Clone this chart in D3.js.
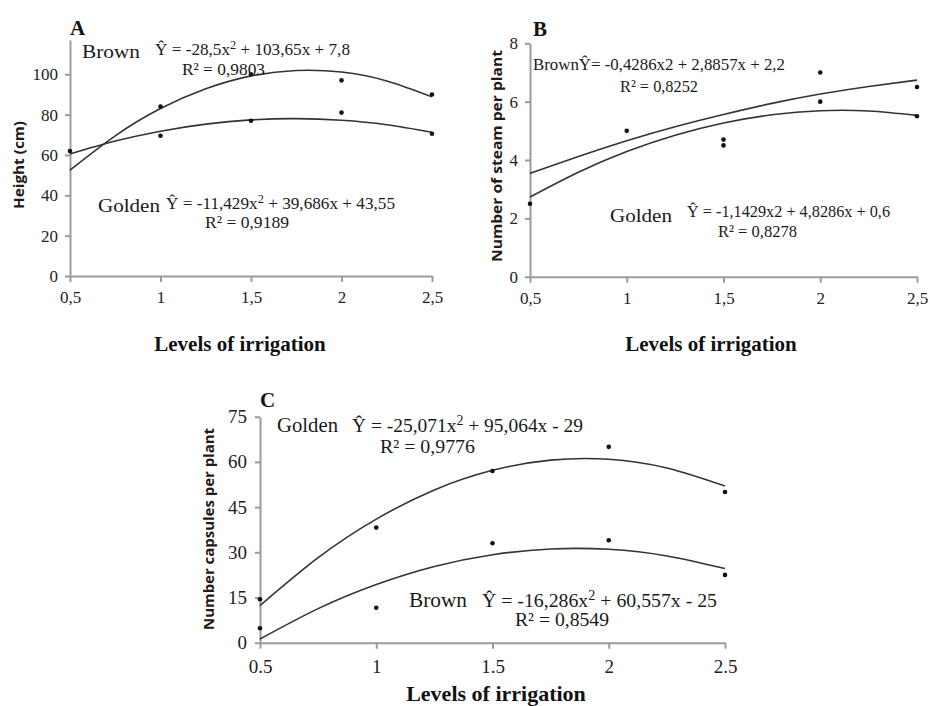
<!DOCTYPE html>
<html>
<head>
<meta charset="utf-8">
<script src="https://cdn.jsdelivr.net/npm/d3@7"></script>
<style>
  body { margin: 0; background: #fff; }
  .axis .domain, .axis .tick line { stroke: #9b9b9b; stroke-width: 2; }
</style>
</head>
<body>
<div id="chart"></div>
<script>
// irrigation levels and sample points for the fitted curves
const irrigation = [0.5, 1, 1.5, 2, 2.5]
const trendX = [0.5, 0.75, 1, 1.25, 1.5, 1.75, 2, 2.25, 2.5]
const xLabelsComma = ['0,5', '1', '1,5', '2', '2,5']
const xLabelsDot = ['0.5', '1', '1.5', '2', '2.5']

// A - height
const heightBrown = [null, 84, 100, 97, 90]
const heightGolden = [62, 69.5, 77, 81, 70.5]
const heightBrownFit = [52.5, 69.5, 83.0, 92.8, 99.2, 101.9, 101.1, 96.7, 88.8]
const heightGoldenFit = [60.5, 66.9, 71.8, 75.3, 77.4, 78.0, 77.2, 75.0, 71.3]
const heightTicks = [0, 20, 40, 60, 80, 100]
const heightTexts = ['Brown', 'Ŷ = -28,5x^2^ + 103,65x + 7,8', 'R² = 0,9803',
  'Golden', 'Ŷ = -11,429x^2^ + 39,686x + 43,55', 'R² = 0,9189']

// B - stems
const stemBrown = [null, 5, 4.7, 7, 6.5]
const stemGolden = [2.5, null, 4.5, 6, 5.5]
const stemBrownFit = [3.54, 4.12, 4.66, 5.14, 5.56, 5.94, 6.26, 6.52, 6.74]
const stemGoldenFit = [2.73, 3.58, 4.29, 4.85, 5.27, 5.55, 5.69, 5.68, 5.53]
const stemTicks = [0, 2, 4, 6, 8]
const stemTexts = ['BrownŶ= -0,4286x2 + 2,8857x + 2,2', 'R² = 0,8252',
  'Golden', 'Ŷ = -1,1429x2 + 4,8286x + 0,6', 'R² = 0,8278']

// C - capsules
const capsGolden = [14.4, 38.2, 57, 65, 50]
const capsBrown = [4.8, 11.6, 33, 34, 22.5]
const capsGoldenFit = [12.3, 28.2, 41.0, 50.7, 57.2, 60.6, 60.9, 58.0, 52.0]
const capsBrownFit = [1.2, 11.3, 19.3, 25.3, 29.2, 31.1, 31.0, 28.8, 24.6]
const capsTicks = [0, 15, 30, 45, 60, 75]
const capsTexts = ['Golden', 'Ŷ = -25,071x^2^ + 95,064x - 29', 'R² = 0,9776',
  'Brown', 'Ŷ = -16,286x^2^ + 60,557x - 25', 'R² = 0,8549']

const width = 930
const height = 706
const serif = '"Liberation Serif", "Times New Roman", serif'
const svg = d3.select('#chart').append('svg').attr('width', width).attr('height', height)

// text with ^..^ marking superscript parts
function richText(str, x, y, size, len) {
  const t = svg.append('text')
    .attr('x', x).attr('y', y)
    .style('font-family', serif)
    .attr('font-size', size)
    .attr('fill', '#1a1a1a')
  let shift = 0
  str.split('^').forEach(function(part, i) {
    if (!part) return
    const sup = i % 2 === 1
    const target = sup ? -size * 0.38 : 0
    t.append('tspan')
      .attr('dy', target - shift)
      .attr('font-size', sup ? size * 0.72 : size)
      .text(part)
    shift = target
  })
  if (len) t.attr('textLength', len).attr('lengthAdjust', 'spacingAndGlyphs')
  return t
}

function drawPanel(p) {
  const x = d3.scaleLinear().domain([0.5, 2.5]).range(p.xRange)
  const y = d3.scaleLinear().domain(p.yDomain).range(p.yRange)

  const yAxis = d3.axisLeft(y).tickValues(p.ticks).tickSize(5).tickSizeOuter(0).tickPadding(p.yPad)
  svg.append('g').attr('class', 'axis')
    .attr('transform', 'translate(' + p.xRange[0] + ',0)')
    .call(yAxis)
    .selectAll('text')
    .style('font-family', serif).style('font-size', p.tickSize + 'px').style('fill', '#222')

  const xAxis = d3.axisBottom(x).tickValues(irrigation)
    .tickFormat(function(d, i) { return p.xLabels[i] })
    .tickSize(6).tickSizeOuter(0).tickPadding(p.xPad)
  svg.append('g').attr('class', 'axis')
    .attr('transform', 'translate(0,' + y(0) + ')')
    .call(xAxis)
    .selectAll('text')
    .style('font-family', serif).style('font-size', p.tickSize + 'px').style('fill', '#222')

  const line = d3.line()
    .x(function(d) { return x(d[0]) })
    .y(function(d) { return y(d[1]) })
    .curve(d3.curveNatural)

  p.fits.forEach(function(fit) {
    svg.append('path')
      .datum(trendX.map(function(v, i) { return [v, fit[i]] }))
      .attr('d', line)
      .attr('fill', 'none')
      .attr('stroke', '#333')
      .attr('stroke-width', 1.6)
  })

  p.series.forEach(function(s) {
    const pts = irrigation.map(function(v, i) { return [v, s[i]] })
      .filter(function(d) { return d[1] !== null })
    svg.append('g').selectAll('circle').data(pts).enter()
      .append('circle')
      .attr('cx', function(d) { return x(d[0]) })
      .attr('cy', function(d) { return y(d[1]) })
      .attr('r', 2.3)
      .attr('fill', '#111')
  })

  // panel letter
  svg.append('text')
    .attr('x', p.letter[1]).attr('y', p.letter[2])
    .style('font-family', serif)
    .attr('font-weight', 'bold').attr('font-size', 21)
    .attr('fill', '#111')
    .text(p.letter[0])

  // y title
  svg.append('text')
    .attr('transform', 'translate(' + p.yTitle[1] + ',' + p.yTitle[2] + ') rotate(-90)')
    .attr('text-anchor', 'middle')
    .attr('font-family', '"Open Sans", "Liberation Sans", sans-serif')
    .attr('font-weight', 'bold').attr('font-size', 14)
    .attr('textLength', p.yTitle[3]).attr('lengthAdjust', 'spacingAndGlyphs')
    .attr('fill', '#241818')
    .text(p.yTitle[0])

  // x title
  svg.append('text')
    .attr('x', p.xTitle[0]).attr('y', p.xTitle[1])
    .attr('text-anchor', 'middle')
    .style('font-family', serif)
    .attr('font-weight', 'bold').attr('font-size', p.xTitle[2])
    .attr('fill', '#111')
    .text('Levels of irrigation')

  p.texts.forEach(function(t, i) {
    const pos = p.textPos[i]
    richText(t, pos[0], pos[1], pos[2], pos[3])
  })
}

drawPanel({
  xRange: [70, 432], yDomain: [0, 117], yRange: [276, 40],
  ticks: heightTicks, yPad: 7, xPad: 9, tickSize: 17, xLabels: xLabelsComma,
  fits: [heightBrownFit, heightGoldenFit], series: [heightBrown, heightGolden],
  letter: ['A', 70, 35], yTitle: ['Height (cm)', 24, 165, 88], xTitle: [240, 351, 21],
  texts: heightTexts,
  textPos: [[82, 58, 19, 58], [155, 55, 17, 195], [182, 75, 17, 83],
    [98, 212, 19, 62], [166, 209, 17, 229], [205, 228, 17, 84]]
})

drawPanel({
  xRange: [530, 917], yDomain: [0, 8], yRange: [276.7, 43.3],
  ticks: stemTicks, yPad: 7, xPad: 9, tickSize: 17, xLabels: xLabelsComma,
  fits: [stemBrownFit, stemGoldenFit], series: [stemBrown, stemGolden],
  letter: ['B', 533, 36], yTitle: ['Number of steam per plant', 502, 156, 212], xTitle: [711, 351, 21],
  texts: stemTexts,
  textPos: [[533, 70, 17, 252], [620, 92, 17, 78],
    [610, 222, 19, 62], [687, 217, 17, 203], [718, 237, 17, 79]]
})

drawPanel({
  xRange: [260, 725], yDomain: [0, 75], yRange: [642.7, 416.7],
  ticks: capsTicks, yPad: 8, xPad: 11, tickSize: 19, xLabels: xLabelsDot,
  fits: [capsGoldenFit, capsBrownFit], series: [capsGolden, capsBrown],
  letter: ['C', 260, 407], yTitle: ['Number capsules per plant', 214, 529, 202], xTitle: [496, 701, 22],
  texts: capsTexts,
  textPos: [[277, 432, 20, 61], [352, 432, 19, 231], [380, 453, 19, 95],
    [409, 607, 20, 58], [482, 607, 19, 235], [515, 626, 19, 94]]
})
</script>
</body>
</html>
